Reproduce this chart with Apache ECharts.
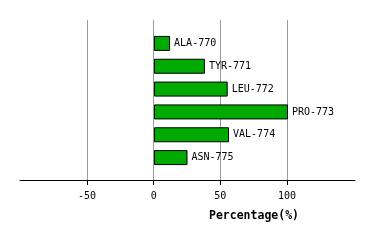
<!DOCTYPE html>
<html><head><meta charset="utf-8">
<script src="https://cdn.jsdelivr.net/npm/echarts@6/dist/echarts.min.js"></script>
<style>html,body{margin:0;padding:0;background:#fff}#c{width:374px;height:240px}</style>
</head><body><div id="c"></div>
<script>
const categories = ['ALA-770','TYR-771','LEU-772','PRO-773','VAL-774','ASN-775'];
const values = [12, 38, 55, 100, 56, 25];
const tickValues = [-50, 0, 50, 100];
const axisName = 'Percentage(%)';

const chart = echarts.init(document.getElementById('c'), null, {renderer:'canvas'});
const mono = 'DejaVu Sans Mono';
chart.setOption({
  animation: false,
  backgroundColor: '#fff',
  grid: [
    {left: 20, right: 19, top: 20, bottom: 60},
    {left: 20, right: 19, top: 32, bottom: 71},
    {left: 87, right: 87, top: 20, bottom: 60}
  ],
  xAxis: [
    {
      gridIndex: 0, type: 'value', min: -100, max: 150, interval: 50,
      axisLine: {show: true, onZero: false, lineStyle: {color: '#000', width: 1}},
      axisTick: {show: false},
      axisLabel: {show: false},
      splitLine: {show: false},
      name: axisName, nameLocation: 'end', nameGap: -101,
      nameTextStyle: {fontFamily: mono, fontSize: 11.5, fontWeight: 'bold', color: '#000', align: 'center', verticalAlign: 'top', padding: [30, 0, 0, 0]}
    },
    {gridIndex: 1, type: 'value', min: -100, max: 150, show: false, splitLine: {show: false}},
    {
      gridIndex: 2, type: 'value', min: tickValues[0], max: tickValues[tickValues.length - 1], interval: 50,
      position: 'bottom',
      axisLine: {show: true, onZero: false, lineStyle: {color: '#000', width: 1}},
      axisTick: {show: true, length: 5, inside: false, lineStyle: {color: '#000', width: 1}},
      axisLabel: {show: true, color: '#000', fontFamily: mono, fontSize: 10, margin: 11},
      splitLine: {show: true, lineStyle: {color: '#999', width: 1}}
    }
  ],
  yAxis: [
    {gridIndex: 0, type: 'value', show: false, splitLine: {show: false}},
    {gridIndex: 1, type: 'category', data: categories, inverse: true, show: false},
    {gridIndex: 2, type: 'value', show: false, splitLine: {show: false}}
  ],
  series: [{
    type: 'bar', xAxisIndex: 1, yAxisIndex: 1, data: values, barWidth: 15,
    itemStyle: {color: '#00aa00', borderColor: '#000', borderWidth: 1},
    label: {show: true, position: 'right', distance: 4, formatter: '{b}', color: '#000', fontFamily: mono, fontSize: 10}
  }]
});
</script></body></html>
